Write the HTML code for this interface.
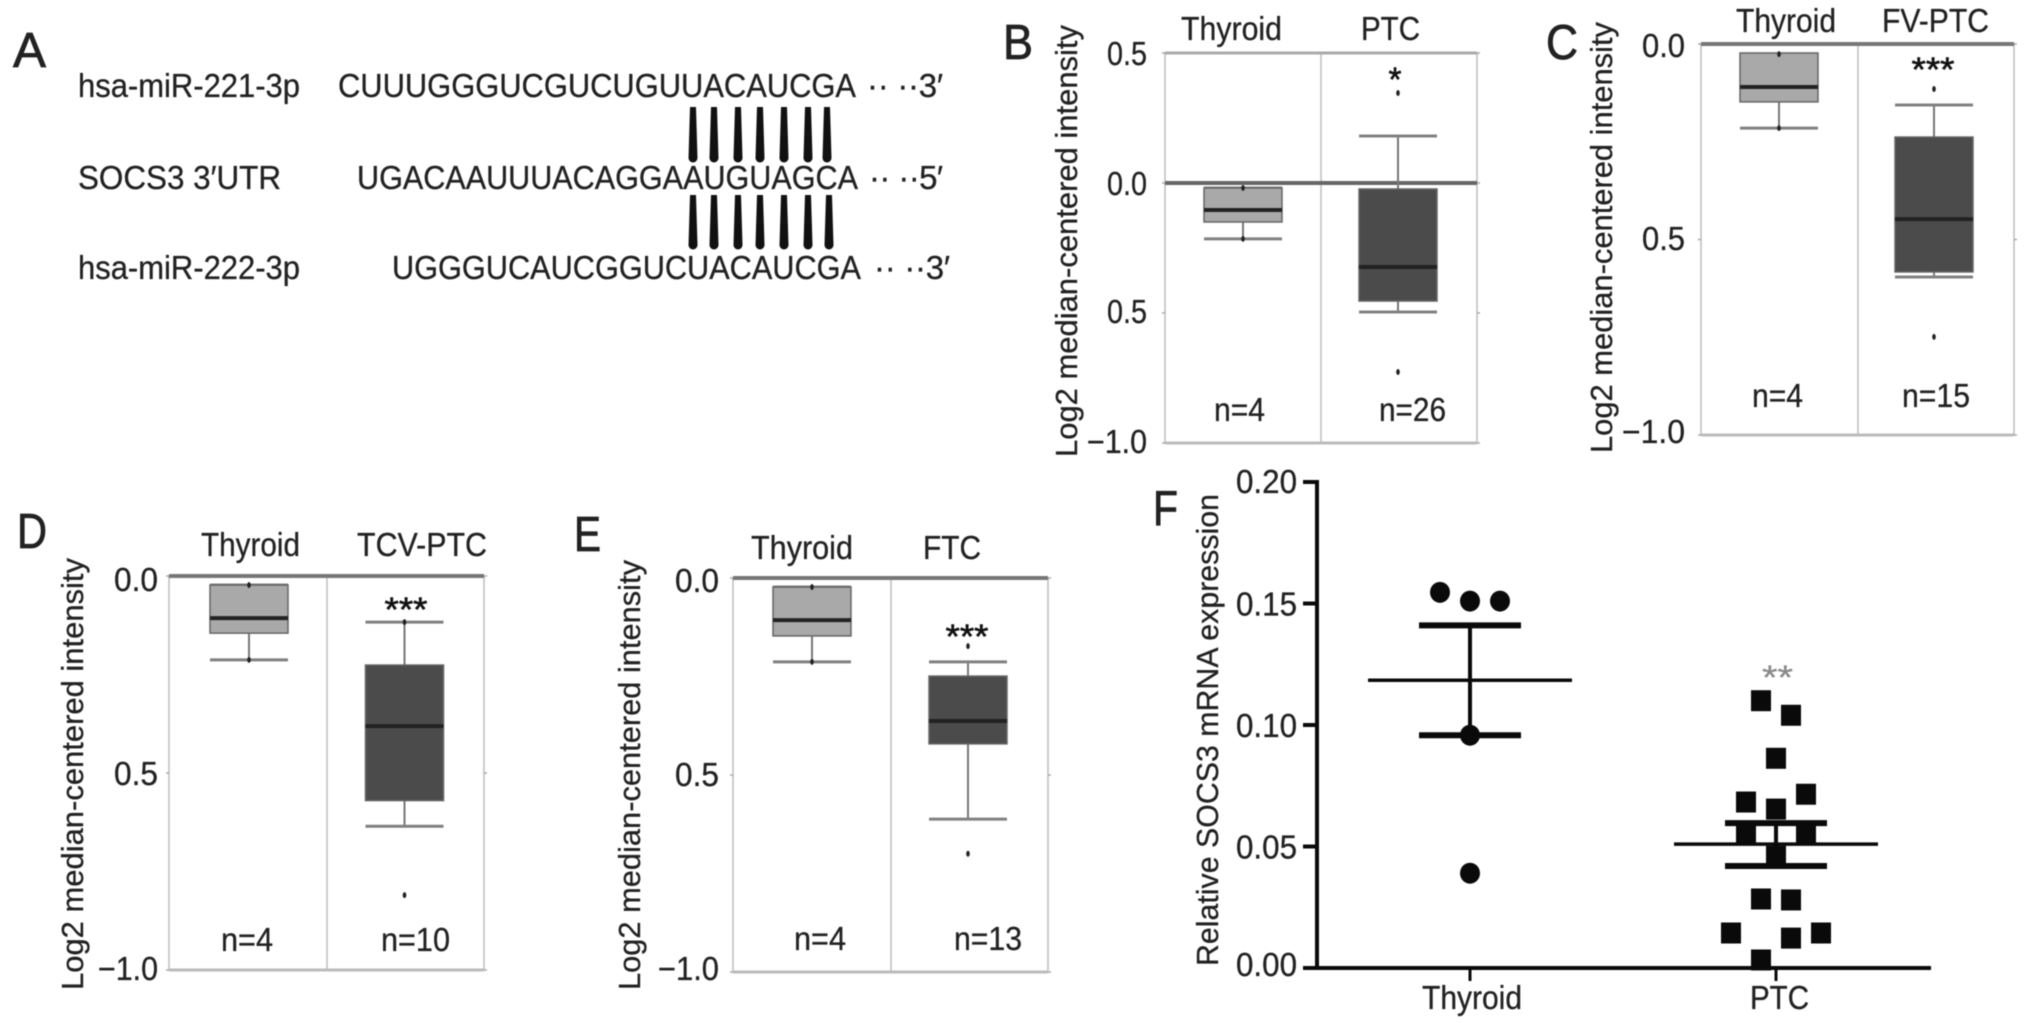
<!DOCTYPE html>
<html lang="en">
<head>
<meta charset="utf-8">
<title>SOCS3 expression figure</title>
<style>
html,body{margin:0;padding:0;background:#fff;width:2032px;height:1023px;overflow:hidden}
svg{display:block;filter:blur(0.6px)}
text{font-family:"Liberation Sans",Arial,sans-serif;font-size:33px;fill:#222;stroke:#222;stroke-width:0.3px}
</style>
</head>
<body>
<svg id="figure" xmlns="http://www.w3.org/2000/svg" width="2032" height="1023" viewBox="0 0 2032 1023">
<rect width="2032" height="1023" fill="#fff"/>
<g id="panel-a">
<text x="13" y="67" textLength="33" lengthAdjust="spacingAndGlyphs" style="font-size:49px;stroke-width:0.8px">A</text>
<text x="78" y="97" textLength="222" lengthAdjust="spacingAndGlyphs">hsa-miR-221-3p</text>
<text x="338" y="97" textLength="518" lengthAdjust="spacingAndGlyphs">CUUUGGGUCGUCUGUUACAUCGA</text>
<text x="867" y="97" textLength="76" lengthAdjust="spacing">·· ··3′</text>
<text x="78" y="189" textLength="203" lengthAdjust="spacingAndGlyphs">SOCS3 3′UTR</text>
<text x="357" y="189" textLength="501" lengthAdjust="spacingAndGlyphs">UGACAAUUUACAGGAAUGUAGCA</text>
<text x="869" y="189" textLength="74" lengthAdjust="spacing">·· ··5′</text>
<text x="78" y="279" textLength="222" lengthAdjust="spacingAndGlyphs">hsa-miR-222-3p</text>
<text x="392" y="279" textLength="469" lengthAdjust="spacingAndGlyphs">UGGGUCAUCGGUCUACAUCGA</text>
<text x="874" y="279" textLength="76" lengthAdjust="spacing">·· ··3′</text>
<g fill="#111">
<path d="M690 107h6l1.5 51a4.5 4.5 0 0 1-9 0z"/>
<path d="M711 107h6l1.5 51a4.5 4.5 0 0 1-9 0z"/>
<path d="M735 107h6l1.5 51a4.5 4.5 0 0 1-9 0z"/>
<path d="M757 107h6l1.5 51a4.5 4.5 0 0 1-9 0z"/>
<path d="M781 107h6l1.5 51a4.5 4.5 0 0 1-9 0z"/>
<path d="M805 107h6l1.5 51a4.5 4.5 0 0 1-9 0z"/>
<path d="M824 107h6l1.5 51a4.5 4.5 0 0 1-9 0z"/>
</g>
<g fill="#111">
<path d="M690 195h6l1.5 50a4.5 4.5 0 0 1-9 0z"/>
<path d="M711 195h6l1.5 50a4.5 4.5 0 0 1-9 0z"/>
<path d="M735 195h6l1.5 50a4.5 4.5 0 0 1-9 0z"/>
<path d="M757 195h6l1.5 50a4.5 4.5 0 0 1-9 0z"/>
<path d="M781 195h6l1.5 50a4.5 4.5 0 0 1-9 0z"/>
<path d="M805 195h6l1.5 50a4.5 4.5 0 0 1-9 0z"/>
<path d="M826 195h6l1.5 50a4.5 4.5 0 0 1-9 0z"/>
</g>
</g>
</svg>
<script>
// ---------- Panel B data ----------
const panelBCategories = ["Thyroid", "PTC"];
const panelBCounts = ["n=4", "n=26"];
const panelBTickValues = [0.5, 0, -0.5, -1];
const panelBTickLabels = ["0.5", "0.0", "0.5", "−1.0"];
const panelBThyroidStats = [-0.019, -0.019, -0.104, -0.15, -0.215];
const panelBTumorStats = [0.181, -0.023, -0.323, -0.454, -0.496];
const panelBThyroidOutliers = [-0.019, -0.215];
const panelBTumorOutliers = [0.346, -0.727];
// ---------- Panel C data ----------
const panelCCategories = ["Thyroid", "FV-PTC"];
const panelCCounts = ["n=4", "n=15"];
const panelCTickValues = [0, -0.5, -1];
const panelCTickLabels = ["0.0", "0.5", "−1.0"];
const panelCThyroidStats = [-0.026, -0.023, -0.11, -0.148, -0.215];
const panelCTumorStats = [-0.156, -0.238, -0.448, -0.583, -0.596];
const panelCThyroidOutliers = [-0.026, -0.215];
const panelCTumorOutliers = [-0.115, -0.749];
// ---------- Panel D data ----------
const panelDCategories = ["Thyroid", "TCV-PTC"];
const panelDCounts = ["n=4", "n=10"];
const panelDTickValues = [0, -0.5, -1];
const panelDTickLabels = ["0.0", "0.5", "−1.0"];
const panelDThyroidStats = [-0.023, -0.023, -0.107, -0.145, -0.213];
const panelDTumorStats = [-0.117, -0.226, -0.381, -0.57, -0.635];
const panelDThyroidOutliers = [-0.023, -0.213];
const panelDTumorOutliers = [-0.117, -0.81];
// ---------- Panel E data ----------
const panelECategories = ["Thyroid", "FTC"];
const panelECounts = ["n=4", "n=13"];
const panelETickValues = [0, -0.5, -1];
const panelETickLabels = ["0.0", "0.5", "−1.0"];
const panelEThyroidStats = [-0.023, -0.023, -0.107, -0.147, -0.213];
const panelETumorStats = [-0.213, -0.249, -0.363, -0.421, -0.612];
const panelEThyroidOutliers = [-0.023, -0.213];
const panelETumorOutliers = [-0.173, -0.7];
// ---------- Panel F data ----------
const panelFCategories = ["Thyroid", "PTC"];
const panelFTickValues = [0.2, 0.15, 0.1, 0.05, 0];
const panelFTickLabels = ["0.20", "0.15", "0.10", "0.05", "0.00"];
const panelFThyroidValues = [0.1546, 0.151, 0.151, 0.0958, 0.039];
const panelFThyroidSlots = [-1, 0, 1, 0, 0];
const panelFPtcValues = [0.11, 0.104, 0.0863, 0.0683, 0.0715, 0.0654, 0.0555, 0.0555, 0.046, 0.0284, 0.028, 0.0144, 0.0123, 0.0144, 0.0033];
const panelFPtcSlots = [-0.5, 0.5, 0, -1, 1, 0, -1, 1, 0, -0.5, 0.5, -1.5, 0.5, 1.5, -0.5];
const panelFMeans = [0.1184, 0.051];
const panelFUpper = [0.141, 0.0596];
const panelFLower = [0.0958, 0.042];

const svg = document.getElementById('figure');
const NS = 'http://www.w3.org/2000/svg';

function mk(parent, tag, name, attrs) {
  const el = document.createElementNS(NS, tag);
  
  
  for (const k in attrs) el.setAttribute(k, attrs[k]);
  parent.appendChild(el);
  return el;
}
function line(parent, name, x1, y1, x2, y2, color, width) {
  return mk(parent, 'line', name, {x1, y1, x2, y2, stroke: color, 'stroke-width': width});
}
function label(parent, name, str, x, y, w, extra) {
  const el = mk(parent, 'text', name, Object.assign({x, y, textLength: w, lengthAdjust: 'spacingAndGlyphs'}, extra || {}));
  el.textContent = str;
  return el;
}
function rotLabel(parent, name, str, baseX, bottomY, len) {
  const el = mk(parent, 'text', name, {
    transform: 'translate(' + baseX + ',' + bottomY + ') rotate(-90)',
    x: 0, y: 0, textLength: len, lengthAdjust: 'spacingAndGlyphs', style: 'font-size:31px'
  });
  el.textContent = str;
  return el;
}
function scale(d0, d1, r0, r1) {
  return v => r0 + (v - d0) * (r1 - r0) / (d1 - d0);
}

function drawBox(g, name, y, stats, outliers, cx, halfW, fill) {
  const [hi, q3, med, q1, lo] = stats;
  line(g, name + '-whisker', cx, y(hi), cx, y(lo), '#777', 2);
  line(g, name + '-whisker-high-cap', cx - halfW, y(hi), cx + halfW, y(hi), '#808080', 3);
  line(g, name + '-whisker-low-cap', cx - halfW, y(lo), cx + halfW, y(lo), '#808080', 3);
  mk(g, 'rect', name + '-box', {x: cx - halfW, y: y(q3), width: 2 * halfW, height: y(q1) - y(q3), fill, stroke: '#666', 'stroke-width': 1.5});
  line(g, name + '-median', cx - halfW, y(med), cx + halfW, y(med), '#222', 4);
  outliers.forEach((v, i) => {
    mk(g, 'ellipse', name + '-point-' + i, {cx, cy: y(v), rx: 1.8, ry: 3, fill: '#222'});
  });
}

function boxPanel(cfg) {
  const g = mk(svg, 'g', 'panel-' + cfg.id + '-boxplot', {});
  const y = scale(cfg.domain[0], cfg.domain[1], cfg.top, cfg.bottom);
  const L = cfg.left, R = cfg.right, M = cfg.mid;
  label(g, 'panel-' + cfg.id + '-letter', cfg.id.toUpperCase(), cfg.letter[0], cfg.letter[1], cfg.letter[2], {style: 'font-size:49px;stroke-width:0.8px'});
  rotLabel(g, 'y-axis-title', 'Log2 median-centered intensity', cfg.title[0], cfg.title[1], cfg.title[2]);
  line(g, 'plot-left-border', L, cfg.top, L, cfg.bottom, '#bdbdbd', 1.5);
  line(g, 'plot-right-border', R, cfg.top, R, cfg.bottom, '#bdbdbd', 1.5);
  line(g, 'category-divider', M, cfg.top, M, cfg.bottom, '#bdbdbd', 1.5);
  line(g, 'plot-top-border', L, cfg.top, R, cfg.top, cfg.topColor, cfg.topWidth);
  line(g, 'plot-bottom-border', L, cfg.bottom, R, cfg.bottom, '#bbb', 3);
  if (cfg.zeroLine) line(g, 'zero-line', L, y(0), R, y(0), '#666', 4);
  cfg.ticks.forEach((v, i) => {
    line(g, 'y-tick-left-' + i, L - 3, y(v), L, y(v), '#aaa', 1.5);
    line(g, 'y-tick-right-' + i, R, y(v), R + 3, y(v), '#aaa', 1.5);
    const long = cfg.tickLabels[i].length > 3;
    const w = long ? cfg.tickWideW : cfg.tickW;
    label(g, 'y-tick-label-' + i, cfg.tickLabels[i], cfg.tickRight - w, y(v) + cfg.tickOffsets[i], w);
  });
  label(g, 'category-label-normal', cfg.categories[0], cfg.catNormal[0], cfg.catBase, cfg.catNormal[1]);
  label(g, 'category-label-tumor', cfg.categories[1], cfg.catTumor[0], cfg.catBase, cfg.catTumor[1]);
  label(g, 'count-label-normal', cfg.counts[0], cfg.countNormal[0], cfg.countBase, cfg.countNormal[1]);
  label(g, 'count-label-tumor', cfg.counts[1], cfg.countTumor[0], cfg.countBase, cfg.countTumor[1]);
  drawBox(g, 'box-normal', y, cfg.normal, cfg.normalPts, cfg.cxNormal, 39, '#a9a9a9');
  drawBox(g, 'box-tumor', y, cfg.tumor, cfg.tumorPts, cfg.cxTumor, 39, '#4b4b4b');
  label(g, 'significance-stars', cfg.stars, cfg.starPos[0] - cfg.starPos[2] / 2, cfg.starPos[1] + 19, cfg.starPos[2], {style: 'font-size:34px;fill:#111;stroke:#111;stroke-width:0.6px'});
}

boxPanel({
  id: 'b', domain: [0.5, -1], top: 53, bottom: 443, left: 1165, right: 1477, mid: 1321,
  letter: [1003, 59, 30], title: [1077, 457, 432], topColor: '#aaa', topWidth: 3, zeroLine: true,
  ticks: panelBTickValues, tickLabels: panelBTickLabels, tickOffsets: [12, 12, 10, 10], tickRight: 1147, tickW: 40, tickWideW: 60,
  categories: panelBCategories, counts: panelBCounts,
  catNormal: [1181, 101], catTumor: [1361, 59], catBase: 40,
  countNormal: [1214, 51], countTumor: [1379, 67], countBase: 421,
  normal: panelBThyroidStats, tumor: panelBTumorStats, normalPts: panelBThyroidOutliers, tumorPts: panelBTumorOutliers,
  cxNormal: 1243, cxTumor: 1398, stars: '*', starPos: [1395, 72, 13]
});
boxPanel({
  id: 'c', domain: [0, -1], top: 44, bottom: 435, left: 1701, right: 2014, mid: 1858,
  letter: [1546, 59, 32], title: [1612, 453, 431], topColor: '#777', topWidth: 4, zeroLine: false,
  ticks: panelCTickValues, tickLabels: panelCTickLabels, tickOffsets: [13, 10.5, 8], tickRight: 1685, tickW: 43, tickWideW: 63,
  categories: panelCCategories, counts: panelCCounts,
  catNormal: [1736, 100], catTumor: [1882, 107], catBase: 32,
  countNormal: [1752, 51], countTumor: [1902, 68], countBase: 407,
  normal: panelCThyroidStats, tumor: panelCTumorStats, normalPts: panelCThyroidOutliers, tumorPts: panelCTumorOutliers,
  cxNormal: 1779, cxTumor: 1934, stars: '***', starPos: [1933, 62, 43]
});
boxPanel({
  id: 'd', domain: [0, -1], top: 576, bottom: 970, left: 169, right: 484, mid: 327,
  letter: [17, 548, 30], title: [83, 990, 432], topColor: '#777', topWidth: 4, zeroLine: false,
  ticks: panelDTickValues, tickLabels: panelDTickLabels, tickOffsets: [15, 12, 10], tickRight: 158, tickW: 44, tickWideW: 60,
  categories: panelDCategories, counts: panelDCounts,
  catNormal: [201, 99], catTumor: [357, 130], catBase: 556,
  countNormal: [221, 52], countTumor: [381, 69], countBase: 951,
  normal: panelDThyroidStats, tumor: panelDTumorStats, normalPts: panelDThyroidOutliers, tumorPts: panelDTumorOutliers,
  cxNormal: 249, cxTumor: 404.5, stars: '***', starPos: [406, 602, 43]
});
boxPanel({
  id: 'e', domain: [0, -1], top: 578, bottom: 972, left: 733, right: 1048, mid: 891,
  letter: [574, 551, 27], title: [640, 990, 430], topColor: '#777', topWidth: 4, zeroLine: false,
  ticks: panelETickValues, tickLabels: panelETickLabels, tickOffsets: [14, 11, 8], tickRight: 719, tickW: 44, tickWideW: 61,
  categories: panelECategories, counts: panelECounts,
  catNormal: [751, 102], catTumor: [923, 58], catBase: 559,
  countNormal: [794, 52], countTumor: [954, 68], countBase: 950,
  normal: panelEThyroidStats, tumor: panelETumorStats, normalPts: panelEThyroidOutliers, tumorPts: panelETumorOutliers,
  cxNormal: 812, cxTumor: 968, stars: '***', starPos: [967, 629, 43]
});

// ---------- Panel F: dot plot ----------
(function () {
  const g = mk(svg, 'g', 'panel-f-dot-plot', {});
  const y = scale(0, 0.2, 968, 482);
  const axisX = 1317, centers = [1470, 1776], slotWidth = 30;
  const ink = '#0a0a0a';
  const tickOffsets = [11, 12, 12, 12, 8];
  label(g, 'panel-f-letter', 'F', 1153, 525, 25, {style: 'font-size:49px;stroke-width:0.8px'});
  rotLabel(g, 'y-axis-title', 'Relative SOCS3 mRNA expression', 1218, 966, 472);
  line(g, 'y-axis', axisX, y(0.2) - 2, axisX, y(0) + 2, ink, 4);
  line(g, 'x-axis', 1303, y(0), 1931, y(0), ink, 4);
  panelFTickValues.forEach((v, i) => {
    line(g, 'y-tick-' + i, 1303, y(v), axisX, y(v), ink, 4);
    label(g, 'y-tick-label-' + i, panelFTickLabels[i], 1236, y(v) + tickOffsets[i], 61);
  });
  centers.forEach((cx, i) => {
    line(g, 'x-tick-' + i, cx, y(0), cx, 981, ink, 3);
  });
  label(g, 'x-label-thyroid', panelFCategories[0], 1422, 1009, 100);
  label(g, 'x-label-ptc', panelFCategories[1], 1750, 1009, 59);
  panelFThyroidValues.forEach((v, i) => {
    mk(g, 'ellipse', 'thyroid-point-' + i, {cx: centers[0] + panelFThyroidSlots[i] * slotWidth, cy: y(v), rx: 10, ry: 10.5, fill: ink});
  });
  panelFPtcValues.forEach((v, i) => {
    mk(g, 'rect', 'ptc-point-' + i, {x: centers[1] + panelFPtcSlots[i] * slotWidth - 10, y: y(v) - 10.5, width: 20, height: 21, fill: ink});
  });
  centers.forEach((cx, i) => {
    const n = panelFCategories[i].toLowerCase();
    line(g, n + '-error-bar', cx, y(panelFUpper[i]), cx, y(panelFLower[i]), ink, 4);
    line(g, n + '-upper-cap', cx - 51, y(panelFUpper[i]), cx + 51, y(panelFUpper[i]), ink, 6);
    line(g, n + '-lower-cap', cx - 51, y(panelFLower[i]), cx + 51, y(panelFLower[i]), ink, 6);
    line(g, n + '-mean-line', cx - 102, y(panelFMeans[i]), cx + 102, y(panelFMeans[i]), ink, 3.5);
  });
  label(g, 'significance-stars', '**', 1762, 689, 31, {style: 'font-size:34px;fill:#8a8a8a;stroke:#8a8a8a'});
})();
</script>
</body>
</html>
